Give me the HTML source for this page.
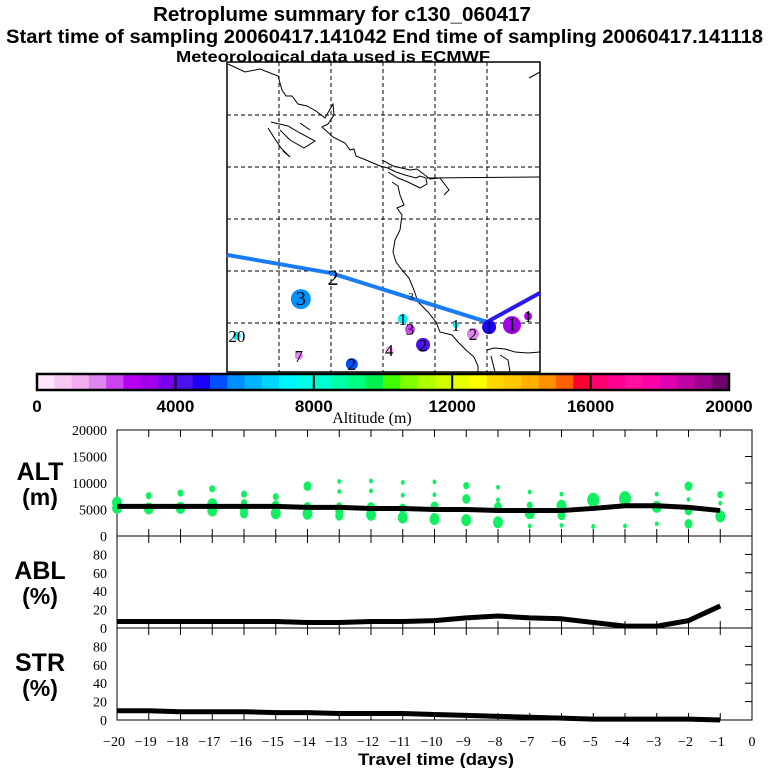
<!DOCTYPE html>
<html><head><meta charset="utf-8"><style>
html,body{margin:0;padding:0;background:#fff;}
svg{display:block;font-family:"Liberation Sans",sans-serif;}
.t{font-weight:bold;text-anchor:middle;}
.ser{font-family:"Liberation Serif",serif;}
</style></head><body>
<svg id="c" width="768" height="768" viewBox="0 0 768 768" xmlns="http://www.w3.org/2000/svg">
<text x="153" y="21" font-size="20" font-weight="bold" textLength="378" lengthAdjust="spacingAndGlyphs">Retroplume summary for c130_060417</text>
<text x="6" y="43" font-size="19" font-weight="bold" textLength="757" lengthAdjust="spacingAndGlyphs">Start time of sampling 20060417.141042     End time of sampling 20060417.141118</text>
<text x="176" y="62" font-size="16" font-weight="bold" textLength="314" lengthAdjust="spacingAndGlyphs">Meteorological data used is ECMWF</text>
<g id="map"></g>
<g id="cbar"></g>
<text class="ser" x="372" y="423" font-size="16" text-anchor="middle">Altitude (m)</text>
<g id="panels"></g>
<text x="358" y="765" font-size="17" font-weight="bold" textLength="156" lengthAdjust="spacingAndGlyphs">Travel time (days)</text>
</svg>
<script>
// ---- data ----
const days = [-20,-19,-18,-17,-16,-15,-14,-13,-12,-11,-10,-9,-8,-7,-6,-5,-4,-3,-2,-1];
const altMean = [5600,5600,5600,5600,5600,5600,5400,5400,5200,5200,5000,5000,4800,4800,4800,5200,5700,5700,5400,4800];
const ablPct = [7,7,7,7,7,7,6,6,7,7,8,11,13,11,10,6,2,2,8,24];
const strPct = [10,10,9,9,9,8,8,7,7,7,6,5,4,3,2,1,1,1,1,0];
const dotDay = [-20,-20,-19,-19,-18,-18,-17,-17,-17,-16,-16,-16,-16,-15,-15,-15,-14,-14,-14,-13,-13,-13,-13,-13,-12,-12,-12,-12,-11,-11,-11,-11,-10,-10,-10,-10,-9,-9,-9,-8,-8,-8,-8,-7,-7,-7,-7,-6,-6,-6,-6,-5,-5,-4,-4,-3,-3,-3,-2,-2,-2,-2,-1,-1,-1];
const dotAlt = [6300,5300,7600,5200,8100,5300,8900,6000,4800,7900,6300,5000,4200,7400,5800,4300,9400,5500,4200,10300,8400,5700,4700,3800,10400,8500,5500,4000,10100,7700,5200,3500,10200,7800,5600,3200,9500,7000,3000,9200,6800,5500,2600,8300,5800,4300,1900,7900,5700,3900,2000,6800,1800,7100,1900,7900,5500,2300,9400,6900,4800,2300,7800,6200,3700];
const dotSize = [5,5,3,5,3,5,3,5,5,3,3,4,4,3,4,5,4,4,5,2,2,3,4,4,2,2,4,5,2,2,4,5,2,2,4,5,3,4,5,2,2,4,5,2,3,5,2,2,5,4,2,6,2,6,2,2,5,2,4,2,4,4,3,2,5];
const cbTicks = [0,4000,8000,12000,16000,20000];
const cbColors = ["#fde6fa","#f9c8f5","#f2aef0","#e085ee","#cc44f0","#b800f5","#a200ea","#7a00f0","#4a10ee","#1a00f5","#0050ff","#0090ff","#00b4ff","#00d4ff","#00f4ff","#00ffe6","#00ffd0","#00ffa8","#00ff80","#00f050","#40ff00","#80ff00","#b0ff00","#d0ff00","#e8ff00","#ffff00","#ffd800","#ffc800","#ffb000","#ff9000","#ff6000","#ff0030","#ff0070","#ff0090","#ff10a0","#ff00a8","#e000b0","#c000a0","#a00090","#700070"];
// map clusters (lon, lat, label, altitude m, size)
const clLon = [-115.8,-128.1,-116.2,-106.0,-98.8,-96.2,-94.8,-92.3,-86.0,-82.7,-79.6,-75.2,-72.1];
const clLat = [4.6,-2.5,-6.3,-7.9,-5.2,0.8,-1.2,-4.2,-0.4,-2.1,-0.8,-0.4,1.3];
const clLabel = ["3","20","7","2","4","1","3","2","1","2","1","1","1"];
const clAlt = [5700,7300,1600,5100,1300,7200,2200,4200,7200,1700,4600,3200,2800];
const clSize = [10,4,4,6,4,5,5,7,3,6,7,9,4];
const trajLon = [-130,-110,-80,-69.8];
const trajLat = [13.1,9.6,0.2,5.8];

const NS="http://www.w3.org/2000/svg";
function mk(parent,tag,attrs){const e=document.createElementNS(NS,tag);for(const k in attrs)e.setAttribute(k,attrs[k]);parent.appendChild(e);return e;}

// ---- map ----
const map=document.getElementById('map');
const MX0=227,MX1=540,MY0=62,MY1=372;
const lonX=lo=>227+(lo+130)*5.2;
const latY=la=>323-la*5.2;
const fr=mk(map,'rect',{x:MX0,y:MY0,width:MX1-MX0,height:MY1-MY0,fill:'#fff',stroke:'#000','stroke-width':1.5});


for(let lo=-120;lo<=-80;lo+=10){const l=mk(map,'line',{x1:lonX(lo),x2:lonX(lo),y1:MY0,y2:MY1,stroke:'#000','stroke-dasharray':'4,3','stroke-width':1});}
for(let la=0;la<=40;la+=10){const l=mk(map,'line',{x1:MX0,x2:MX1,y1:latY(la),y2:latY(la),stroke:'#000','stroke-dasharray':'4,3','stroke-width':1});}
const coast=[
"228,64 245,72 260,69 278,76 282,90 286,96 292,96 298,104 307,106 316,111 325,118 333,104 334,115 328,124 322,127 333,137 345,143 350,150 354,149 356,156 366,160 380,166 388,168 396,172 405,175 416,178 420,176 426,178 427,184 420,188 408,182 398,178 388,172",
"382,160 393,166 410,170 417,169 430,179 440,178 446,186 449,190 444,195",
"392,182 398,186 400,195 404,205 397,208 402,215 400,230 395,240 393,252 396,262 402,270 409,278 414,290 418,302 428,312 436,322 440,332 452,335 458,342 466,350 474,357 478,366 478,372",
"427,178 540,177",
"271,122 288,126 300,133 315,141 304,148 290,140 280,130",
"300,123 310,130",
"268,128 275,139 281,148 290,157 283,151",
"487,350 494,348 505,349 515,352 528,353 540,352",
"491,356 494,368 495,372",
"500,355 508,360 510,372",
"529,78 540,72 540,80"];
coast.forEach(p=>{const e=mk(map,'polyline',{points:p,fill:'none',stroke:'#000','stroke-width':1});});
const colFor=a=>cbColors[Math.min(39,Math.max(0,Math.floor(a/500)))];
for(let i=0;i<trajLon.length-1;i++){
 const e=mk(map,'line',{x1:lonX(trajLon[i]),y1:latY(trajLat[i]),x2:lonX(trajLon[i+1]),y2:latY(trajLat[i+1]),stroke:i<2?'#1a7cf5':'#2a18f0','stroke-width':4});
 
 
}
const tl=mk(map,'text',{x:333,y:285,'font-size':22,'text-anchor':'middle',class:'ser'});tl.textContent='2';


const tl2=mk(map,'text',{x:411,y:300,'font-size':11,'text-anchor':'middle',class:'ser'});tl2.textContent='3';


for(let i=0;i<clLon.length;i++){
 const x=lonX(clLon[i]),y=latY(clLat[i]);
 const c=mk(map,'circle',{cx:x,cy:y,r:clSize[i],fill:colFor(clAlt[i])});
 
 
 const t=mk(map,'text',{x:x,y:y+6,'font-size':clSize[i]>=9?20:17,'text-anchor':'middle',class:'ser'});t.textContent=clLabel[i];
 
 
}

// ---- colorbar ----
const cb=document.getElementById('cbar');
const CX0=37,CX1=729,CY0=374,CY1=390;
const cbx=v=>CX0+(CX1-CX0)*v/20000;
cbColors.forEach((c,i)=>{const r=mk(cb,'rect',{x:cbx(i*500),y:CY0,width:cbx((i+1)*500)-cbx(i*500)+0.5,height:CY1-CY0,fill:c});});
mk(cb,'rect',{x:CX0,y:CY0,width:CX1-CX0,height:CY1-CY0,fill:'none',stroke:'#000','stroke-width':2.5});
cbTicks.forEach(v=>{
 if(v>0&&v<20000)mk(cb,'line',{x1:cbx(v),x2:cbx(v),y1:CY0,y2:CY1,stroke:'#000','stroke-width':2});
 const t=mk(cb,'text',{x:cbx(v),y:412,'font-size':17,'font-weight':'bold','text-anchor':'middle'});t.textContent=v;
 
 
});

// ---- panels ----
const P=document.getElementById('panels');
const X0=117,X1=752;
const xs=d=>X1+(d)*(X1-X0)/20;
function panel(top,bot,max,ticks,lab1,lab2,name){
 const g=mk(P,'g',{});
 
 
 const ys=v=>bot-(bot-top)*v/max;
 mk(g,'rect',{x:X0,y:top,width:X1-X0,height:bot-top,fill:'none',stroke:'#000','stroke-width':1});
 for(let d=-19;d<=-1;d++){mk(g,'line',{x1:xs(d),x2:xs(d),y1:top,y2:top+7,stroke:'#000'});mk(g,'line',{x1:xs(d),x2:xs(d),y1:bot,y2:bot-7,stroke:'#000'});}
 ticks.forEach(v=>{mk(g,'line',{x1:X1,x2:X1-7,y1:ys(v),y2:ys(v),stroke:'#000'});
  const t=mk(g,'text',{x:107,y:ys(v)+5,'font-size':14,'text-anchor':'end',class:'ser'});t.textContent=v;
  
  });
 const a=mk(g,'text',{x:40,y:(top+bot)/2-3,'font-size':25,'font-weight':'bold','text-anchor':'middle'});a.textContent=lab1;
 
 
 const b=mk(g,'text',{x:40,y:(top+bot)/2+22,'font-size':23,'font-weight':'bold','text-anchor':'middle'});b.textContent=lab2;
 
 
 return {g,ys};
}
const alt=panel(430,536,20000,[0,5000,10000,15000,20000],'ALT','(m)','alt-panel');
const abl=panel(536,628,100,[0,20,40,60,80],'ABL','(%)','abl-panel');
const str=panel(628,720,100,[0,20,40,60,80],'STR','(%)','str-panel');
for(let i=0;i<dotDay.length;i++){
 const e=mk(alt.g,'ellipse',{cx:xs(dotDay[i]),cy:alt.ys(dotAlt[i]),rx:dotSize[i],ry:dotSize[i]*1.2,fill:'#10f060'});
 
 
}
function line(p,vals,name){const e=mk(p.g,'polyline',{points:days.map((d,i)=>xs(d)+','+p.ys(vals[i])).join(' '),fill:'none',stroke:'#000','stroke-width':5,'stroke-linejoin':'round'});
 
 }
line(alt,altMean,'mean-altitude-line');
line(abl,ablPct,'abl-fraction-line');
line(str,strPct,'stratosphere-fraction-line');
for(let d=-20;d<=0;d++){const t=mk(P,'text',{x:xs(d)-(d<0?3:0),y:746,'font-size':14,'text-anchor':'middle',class:'ser'});t.textContent=d<0?'\u2212'+(-d):'0';
 
 }
</script>
</body></html>
